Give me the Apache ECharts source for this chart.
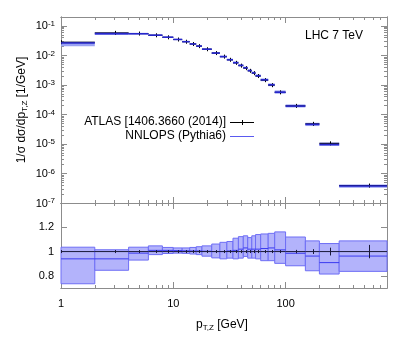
<!DOCTYPE html>
<html>
<head>
<meta charset="utf-8">
<script src="https://cdn.jsdelivr.net/npm/echarts@6/dist/echarts.min.js"></script>
<style>
html,body{margin:0;padding:0;background:#fff;}
#main{width:407px;height:339px;}
</style>
</head>
<body>
<div id="main"></div>
<script>
// bin edges of the Z pT measurement [GeV]
var binEdges = [0, 2, 4, 6, 8, 10, 12, 14, 16, 18, 22, 26, 30, 34, 38, 42, 46, 50, 54, 60, 70, 80, 100, 150, 200, 300, 800];
// ATLAS normalised cross section 1/sigma dsigma/dpT [1/GeV]
var atlas = [0.0280, 0.0580, 0.0550, 0.0480, 0.0410, 0.0345, 0.0290, 0.0243, 0.0206, 0.0162, 0.0120, 0.0091, 0.0071,
             0.0056, 0.0045, 0.0037, 0.0030, 0.0025, 0.0020, 0.00145, 0.00098, 0.00056, 0.000195, 4.8e-5, 1.05e-5, 3.9e-7];
// relative data uncertainty
var atlasErr = [0.012, 0.010, 0.010, 0.010, 0.010, 0.010, 0.010, 0.010, 0.010, 0.010, 0.010, 0.010, 0.010,
                0.010, 0.010, 0.010, 0.011, 0.011, 0.011, 0.012, 0.012, 0.012, 0.014, 0.020, 0.032, 0.055];
// NNLOPS / data: central value and band
var mcRatio   = [0.940, 0.940, 0.987, 1.010, 1.010, 1.008, 1.006, 1.005, 1.005, 1.003, 1.000, 1.000, 1.005,
                 1.010, 1.020, 1.030, 1.020, 1.020, 1.020, 1.025, 1.030, 1.014, 0.986, 0.963, 0.909, 0.963];
var mcRatioLo = [0.735, 0.846, 0.930, 0.975, 0.984, 0.987, 0.985, 0.980, 0.975, 0.962, 0.948, 0.940, 0.946,
                 0.940, 0.946, 0.960, 0.946, 0.946, 0.940, 0.925, 0.925, 0.903, 0.883, 0.842, 0.815, 0.837];
var mcRatioHi = [1.036, 1.015, 1.036, 1.047, 1.034, 1.030, 1.030, 1.034, 1.040, 1.047, 1.062, 1.076, 1.083,
                 1.110, 1.123, 1.130, 1.115, 1.130, 1.140, 1.145, 1.150, 1.162, 1.120, 1.088, 1.066, 1.088];

var xTicks = [1, 10, 100];
var yTickExp = [-7, -6, -5, -4, -3, -2, -1];
var ratioTicks = [0.8, 1, 1.2];

var X_MIN = 1, X_MAX = 800;
var Y_MIN = 1e-7, Y_MAX = 0.2;
var R_MIN = 0.7, R_MAX = 1.4;

var FONT = '"Liberation Sans", Arial, sans-serif';
var FRAME = '#8c8c8c';

function lg(v) { return Math.log10(v); }
function xl(v) { return lg(Math.max(v, X_MIN)); }

// log-axis tick positions
var xMajor = xTicks.map(lg);
var xMinor = [];
xTicks.forEach(function (d) {
    for (var m = 2; m <= 9; m++) if (m * d <= X_MAX) xMinor.push(lg(m * d));
});
var yMajor = yTickExp.slice();
var yMinor = [];
yTickExp.forEach(function (e) {
    for (var m = 2; m <= 9; m++) if (m * Math.pow(10, e) <= Y_MAX) yMinor.push(lg(m) + e);
});

// series data
var topBand = [], topLine = [], topData = [], rBand = [], rLine = [], rData = [];
atlas.forEach(function (v, i) {
    var lo = binEdges[i], hi = binEdges[i + 1], c = (lo + hi) / 2;
    topBand.push([xl(lo), xl(hi), lg(v * mcRatioLo[i]), lg(v * mcRatioHi[i])]);
    topLine.push([xl(lo), xl(hi), lg(v * mcRatio[i])]);
    topData.push([xl(lo), xl(hi), xl(c), lg(v), lg(v * (1 - atlasErr[i])), lg(v * (1 + atlasErr[i]))]);
    rBand.push([xl(lo), xl(hi), mcRatioLo[i], mcRatioHi[i]]);
    rLine.push([xl(lo), xl(hi), mcRatio[i]]);
    rData.push([xl(lo), xl(hi), xl(c), 1, 1 - atlasErr[i], 1 + atlasErr[i]]);
});

function rectItem(fill, stroke) {
    return function (params, api) {
        var a = api.coord([api.value(0), api.value(3)]);
        var b = api.coord([api.value(1), api.value(2)]);
        return {
            type: 'rect',
            shape: { x: a[0], y: a[1], width: b[0] - a[0], height: b[1] - a[1] },
            style: { fill: fill, stroke: stroke || null, lineWidth: stroke ? 1 : 0 }
        };
    };
}
function hLineItem(color, width) {
    return function (params, api) {
        var a = api.coord([api.value(0), api.value(2)]);
        var b = api.coord([api.value(1), api.value(2)]);
        return { type: 'line', shape: { x1: a[0], y1: a[1], x2: b[0], y2: b[1] }, style: { stroke: color, lineWidth: width } };
    };
}
function pointItem(color, mark) {
    return function (params, api) {
        var lo = api.coord([api.value(0), api.value(3)]);
        var hi = api.coord([api.value(1), api.value(3)]);
        var c = api.coord([api.value(2), api.value(3)]);
        var e1 = api.coord([api.value(2), api.value(4)]);
        var e2 = api.coord([api.value(2), api.value(5)]);
        var y = c[1];
        var x = Math.round(c[0]) + 0.5;
        return {
            type: 'group',
            children: [
                { type: 'line', shape: { x1: lo[0], y1: y, x2: hi[0], y2: y }, style: { stroke: color, lineWidth: 1 } },
                { type: 'line', shape: { x1: x, y1: Math.min(e2[1], y - mark), x2: x, y2: Math.max(e1[1], y + mark) },
                  style: { stroke: color, lineWidth: 1 } }
            ]
        };
    };
}

function xAx(grid, pos, vals, len, labels) {
    return {
        type: 'value', gridIndex: grid, position: pos,
        min: lg(X_MIN), max: lg(X_MAX),
        axisLine: { show: true, onZero: false, lineStyle: { color: FRAME, width: 1 } },
        axisTick: { show: true, inside: true, length: len, customValues: vals, lineStyle: { color: FRAME } },
        axisLabel: labels ? {
            show: true, customValues: xMajor, margin: 10, fontSize: 11, color: '#000', fontFamily: FONT,
            formatter: function (v) { return String(Math.round(Math.pow(10, v))); }
        } : { show: false },
        splitLine: { show: false }
    };
}
function yAx(grid, pos, min, max, vals, len, labels) {
    return {
        type: 'value', gridIndex: grid, position: pos, min: min, max: max,
        axisLine: { show: true, onZero: false, lineStyle: { color: FRAME, width: 1 } },
        axisTick: { show: true, inside: true, length: len, customValues: vals, lineStyle: { color: FRAME } },
        axisLabel: labels || { show: false },
        splitLine: { show: false }
    };
}

var logLabel = {
    show: true, customValues: yMajor, margin: 6, color: '#000', fontFamily: FONT,
    formatter: function (v) { return '{b|10}{s|' + Math.round(v) + '}'; },
    rich: {
        b: { fontSize: 11, fontFamily: FONT, color: '#000', lineHeight: 12, padding: [5, 0, 0, 0], verticalAlign: 'bottom' },
        s: { fontSize: 8, fontFamily: FONT, color: '#000', lineHeight: 9, verticalAlign: 'top' }
    }
};
var ratioLabel = {
    show: true, customValues: ratioTicks, margin: 7, fontSize: 11, color: '#000', fontFamily: FONT,
    formatter: function (v) { return String(v); }
};

var chart = echarts.init(document.getElementById('main'));

var option = {
    animation: false,
    backgroundColor: '#fff',
    grid: [
        { left: 61, top: 17, width: 326, height: 186 },
        { left: 61, top: 203, width: 326, height: 85 }
    ],
    xAxis: [
        xAx(0, 'bottom', xMajor, 6, false),
        xAx(0, 'bottom', xMinor, 3, false),
        xAx(0, 'top', xMajor, 6, false),
        xAx(0, 'top', xMinor, 3, false),
        xAx(1, 'bottom', xMajor, 6, true),
        xAx(1, 'bottom', xMinor, 3, false),
        xAx(1, 'top', xMajor, 6, false),
        xAx(1, 'top', xMinor, 3, false)
    ],
    yAxis: [
        yAx(0, 'left', lg(Y_MIN), lg(Y_MAX), yMajor, 6, logLabel),
        yAx(0, 'left', lg(Y_MIN), lg(Y_MAX), yMinor, 3),
        yAx(0, 'right', lg(Y_MIN), lg(Y_MAX), yMajor, 6),
        yAx(0, 'right', lg(Y_MIN), lg(Y_MAX), yMinor, 3),
        yAx(1, 'left', R_MIN, R_MAX, ratioTicks, 6, ratioLabel),
        yAx(1, 'right', R_MIN, R_MAX, ratioTicks, 6)
    ],
    series: [
        { type: 'custom', name: 'mc band', xAxisIndex: 0, yAxisIndex: 0, renderItem: rectItem('#9aa2f2'), data: topBand },
        { type: 'custom', name: 'data', xAxisIndex: 0, yAxisIndex: 0, renderItem: pointItem('#000', 2), data: topData },
        { type: 'custom', name: 'mc', xAxisIndex: 0, yAxisIndex: 0, renderItem: hLineItem('#2626cc', 1.6), data: topLine },
        { type: 'custom', name: 'ratio band', xAxisIndex: 4, yAxisIndex: 4, renderItem: rectItem('#b3b3fb', '#6e6ef5'), data: rBand },
        { type: 'custom', name: 'ratio mc', xAxisIndex: 4, yAxisIndex: 4, renderItem: hLineItem('#3a3af0', 1), data: rLine },
        { type: 'custom', name: 'ratio data', xAxisIndex: 4, yAxisIndex: 4, renderItem: pointItem('#1a1a3a', 1.5), data: rData }
    ],
    graphic: [
        {
            type: 'text', x: 22, y: 110, rotation: Math.PI / 2,
            style: {
                text: '{a|1/σ dσ/dp}{s|T,Z}{a| [1/GeV]}',
                align: 'center', verticalAlign: 'middle',
                rich: {
                    a: { fontSize: 12, fontFamily: FONT, fill: '#000', lineHeight: 14, verticalAlign: 'middle' },
                    s: { fontSize: 8, fontFamily: FONT, fill: '#000', lineHeight: 8, verticalAlign: 'bottom' }
                }
            }
        },
        {
            type: 'text', x: 222, y: 325,
            style: {
                text: '{a|p}{s|T,Z}{a| [GeV]}',
                align: 'center', verticalAlign: 'middle',
                rich: {
                    a: { fontSize: 12, fontFamily: FONT, fill: '#000', lineHeight: 14, verticalAlign: 'middle' },
                    s: { fontSize: 8, fontFamily: FONT, fill: '#000', lineHeight: 8, verticalAlign: 'bottom' }
                }
            }
        },
        {
            type: 'text', x: 305, y: 36,
            style: { text: 'LHC 7 TeV', fontSize: 12, fontFamily: FONT, fill: '#000', align: 'left', verticalAlign: 'middle' }
        },
        {
            type: 'text', x: 226, y: 122,
            style: { text: 'ATLAS [1406.3660 (2014)]', fontSize: 12, fontFamily: FONT, fill: '#000', align: 'right', verticalAlign: 'middle' }
        },
        { type: 'line', shape: { x1: 230, y1: 122.5, x2: 254, y2: 122.5 }, style: { stroke: '#000', lineWidth: 1 } },
        { type: 'line', shape: { x1: 242.5, y1: 120, x2: 242.5, y2: 125 }, style: { stroke: '#000', lineWidth: 1 } },
        {
            type: 'text', x: 226, y: 136,
            style: { text: 'NNLOPS (Pythia6)', fontSize: 12, fontFamily: FONT, fill: '#000', align: 'right', verticalAlign: 'middle' }
        },
        { type: 'line', shape: { x1: 230, y1: 136.5, x2: 254, y2: 136.5 }, style: { stroke: '#5a5af0', lineWidth: 1 } }
    ]
};

chart.setOption(option);
</script>
</body>
</html>
